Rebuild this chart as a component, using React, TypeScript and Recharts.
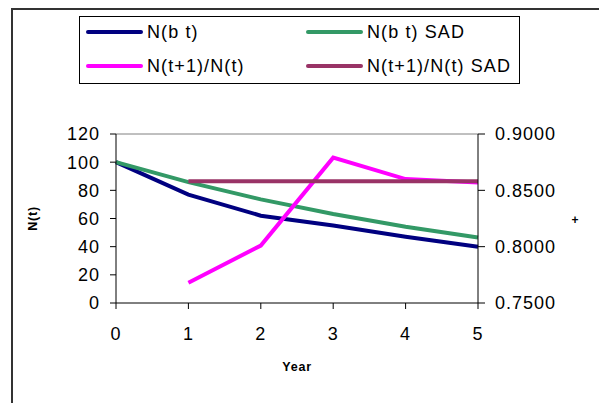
import React from 'react';
import { LineChart, Line, XAxis, YAxis, Legend, ReferenceLine } from 'recharts';

const years = [0, 1, 2, 3, 4, 5];
const nbt = [100, 77, 62, 55, 47, 40];
const nbtSad = [100, 85.8, 73.6, 63.2, 54.2, 46.5];
const ratio = [null, 0.768, 0.801, 0.879, 0.86, 0.857];
const ratioSad = [null, 0.858, 0.858, 0.858, 0.858, 0.858];

const leftTicks = [0, 20, 40, 60, 80, 100, 120];
const rightTicks = [0.75, 0.8, 0.85, 0.9];

const series = [
  { key: 'nbt', name: 'N(b t)', color: '#000080', axis: 'left' },
  { key: 'nbtSad', name: 'N(b t) SAD', color: '#339966', axis: 'left' },
  { key: 'ratio', name: 'N(t+1)/N(t)', color: '#FF00FF', axis: 'right' },
  { key: 'ratioSad', name: 'N(t+1)/N(t) SAD', color: '#993366', axis: 'right' },
];

const data = years.map((y, i) => ({
  year: y,
  nbt: nbt[i],
  nbtSad: nbtSad[i],
  ratio: ratio[i],
  ratioSad: ratioSad[i],
}));

const FONT = '"Liberation Sans", Arial, sans-serif';
const tickStyle = { fill: '#000', fontSize: 18, fontFamily: FONT, letterSpacing: 1 };

const LegendBox = () => {
  // legend order: row 1 holds the N series, row 2 the growth ratios
  const cols = [6, 226];
  const rows = [15, 49];
  return (
    <div style={{ position: 'relative', width: '100%', height: '100%' }}>
      {series.map((s, i) => (
        <div
          key={s.key}
          style={{
            position: 'absolute',
            left: cols[i % 2],
            top: rows[Math.floor(i / 2)] - 12,
            height: 24,
            display: 'flex',
            alignItems: 'center',
            whiteSpace: 'nowrap',
          }}
        >
          <span style={{ display: 'inline-block', width: 57, height: 4, borderRadius: 2, background: s.color }} />
          <span style={{ marginLeft: 4, fontSize: 18, letterSpacing: 1.1, fontFamily: FONT, color: '#000' }}>{s.name}</span>
        </div>
      ))}
    </div>
  );
};

const LeftLabel = (props: any) => {
  const { viewBox } = props;
  const cy = viewBox.y + viewBox.height / 2;
  return (
    <text x={33} y={cy} transform={`rotate(-90 33 ${cy})`} textAnchor="middle" dominantBaseline="central"
      style={{ fontSize: 12.5, fontWeight: 'bold', fontFamily: FONT, letterSpacing: 0.8, fill: '#000' }}>
      N(t)
    </text>
  );
};

const RightLabel = (props: any) => {
  const { viewBox } = props;
  const cy = viewBox.y + viewBox.height / 2;
  return (
    <text x={575} y={cy + 1} textAnchor="middle" dominantBaseline="central"
      style={{ fontSize: 12, fontWeight: 'bold', fontFamily: FONT, fill: '#000' }}>
      +
    </text>
  );
};

export default function App() {
  return (
    <div style={{ position: 'absolute', left: 0, top: 0, width: 599, height: 403, overflow: 'hidden', background: '#fff' }}>
      <div style={{ position: 'absolute', left: 11, top: 8, width: 620, height: 420, borderLeft: '2px solid #333', borderTop: '2px solid #333' }} />
      <LineChart width={599} height={403} data={data} margin={{ top: 134, right: 0, bottom: 0, left: 0 }}>
        <XAxis
          dataKey="year"
          type="number"
          domain={[0, 5]}
          ticks={years}
          height={100}
          tickSize={6}
          tickMargin={18}
          stroke="#000"
          tick={tickStyle}
          label={{ value: 'Year', position: 'insideTop', offset: 59, style: { fontSize: 12.5, fontWeight: 'bold', fontFamily: FONT, letterSpacing: 0.8, fill: '#000' } }}
        />
        <YAxis
          yAxisId="left"
          domain={[0, 120]}
          ticks={leftTicks}
          width={116}
          tickSize={6}
          tickMargin={10}
          stroke="#000"
          tick={tickStyle}
          label={<LeftLabel />}
        />
        <YAxis
          yAxisId="right"
          orientation="right"
          domain={[0.75, 0.9]}
          ticks={rightTicks}
          tickFormatter={(v: number) => v.toFixed(4)}
          width={121}
          tickSize={7}
          tickMargin={10}
          stroke="#000"
          tick={tickStyle}
          label={<RightLabel />}
        />
        <ReferenceLine yAxisId="left" y={120} stroke="#808080" strokeWidth={1} />
        <Legend
          layout="vertical"
          align="center"
          verticalAlign="middle"
          content={<LegendBox />}
          wrapperStyle={{ left: 79, top: 16, width: 441, height: 68, border: '1px solid #000', boxSizing: 'border-box', background: '#fff' }}
        />
        {series.map(s => (
          <Line
            key={s.key}
            yAxisId={s.axis}
            type="linear"
            dataKey={s.key}
            name={s.name}
            stroke={s.color}
            strokeWidth={4}
            dot={false}
            isAnimationActive={false}
          />
        ))}
      </LineChart>
    </div>
  );
}
